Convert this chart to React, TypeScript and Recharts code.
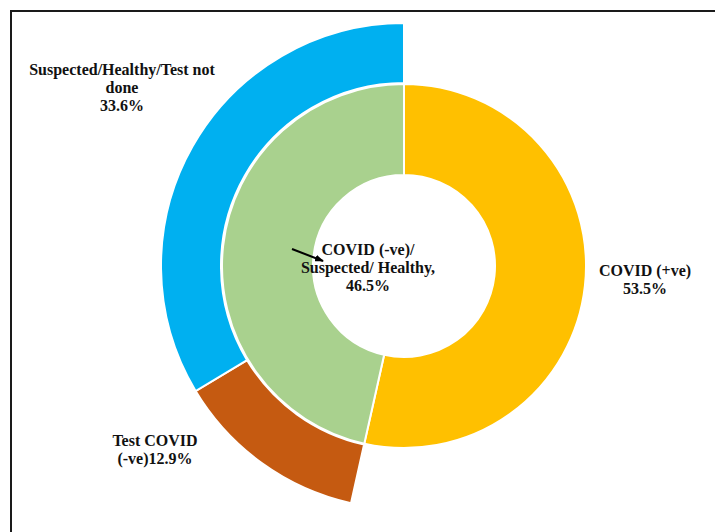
import { PieChart, Pie, Cell } from "recharts"

const innerNames = ["COVID (+ve)", "COVID (-ve)/ Suspected/ Healthy"]
const innerValues = [53.5, 46.5]
const innerColors = ["#FFC000", "#A9D18E"]

const outerNames = ["(COVID +ve, no split)", "Test COVID (-ve)", "Suspected/Healthy/Test not done"]
const outerValues = [53.5, 12.9, 33.6]
const outerColors = ["transparent", "#C55A11", "#00B0F0"]

const innerData = innerNames.map((name, i) => ({ name, value: innerValues[i] }))
const outerData = outerNames.map((name, i) => ({ name, value: outerValues[i] }))

const labelStyle: React.CSSProperties = {
  position: "absolute",
  fontFamily: "'Liberation Serif', 'Times New Roman', serif",
  fontWeight: "bold",
  fontSize: 16,
  lineHeight: "18px",
  color: "#111",
  textAlign: "center",
  whiteSpace: "nowrap",
}

export default function App() {
  return (
    <div style={{ position: "fixed", left: 0, top: 0, width: 715, height: 532, background: "#fff", overflow: "hidden" }}>
      <div style={{ position: "absolute", left: 10, top: 10, right: 0, bottom: 0, borderTop: "2px solid #1a1a1a", borderLeft: "2px solid #1a1a1a" }} />
      <PieChart width={715} height={532} margin={{ top: 0, right: 0, bottom: 0, left: 0 }} style={{ position: "absolute", left: 0, top: 0 }}>
        <Pie
          data={innerData}
          dataKey="value"
          cx={404}
          cy={266}
          innerRadius={91}
          outerRadius={182}
          startAngle={90}
          endAngle={-270}
          stroke="#fff"
          strokeWidth={2}
          isAnimationActive={false}
        >
          {innerData.map((d, i) => (
            <Cell key={d.name} fill={innerColors[i]} />
          ))}
        </Pie>
        <Pie
          data={outerData}
          dataKey="value"
          cx={404}
          cy={266}
          innerRadius={183}
          outerRadius={243}
          startAngle={90}
          endAngle={-270}
          strokeWidth={2}
          isAnimationActive={false}
        >
          {outerData.map((d, i) => (
            <Cell key={d.name} fill={outerColors[i]} stroke={i === 0 ? "none" : "#fff"} />
          ))}
        </Pie>
      </PieChart>
      <svg width={715} height={532} style={{ position: "absolute", left: 0, top: 0 }}>
        <defs>
          <marker id="ah" markerUnits="userSpaceOnUse" markerWidth="9" markerHeight="7" refX="8" refY="3.5" orient="auto">
            <path d="M0,0 L9,3.5 L0,7 z" fill="#000" />
          </marker>
        </defs>
        <line x1={292} y1={249} x2={323} y2={261} stroke="#000" strokeWidth={2} markerEnd="url(#ah)" />
      </svg>
      <div style={{ ...labelStyle, left: 22, width: 200, top: 61 }}>
        Suspected/Healthy/Test not
        <br />
        done
        <br />
        33.6%
      </div>
      <div style={{ ...labelStyle, left: 268, width: 200, top: 241 }}>
        COVID (-ve)/
        <br />
        Suspected/ Healthy,
        <br />
        46.5%
      </div>
      <div style={{ ...labelStyle, left: 585, width: 120, top: 262 }}>
        COVID (+ve)
        <br />
        53.5%
      </div>
      <div style={{ ...labelStyle, left: 95, width: 120, top: 432 }}>
        Test COVID
        <br />
        (-ve)12.9%
      </div>
    </div>
  )
}
